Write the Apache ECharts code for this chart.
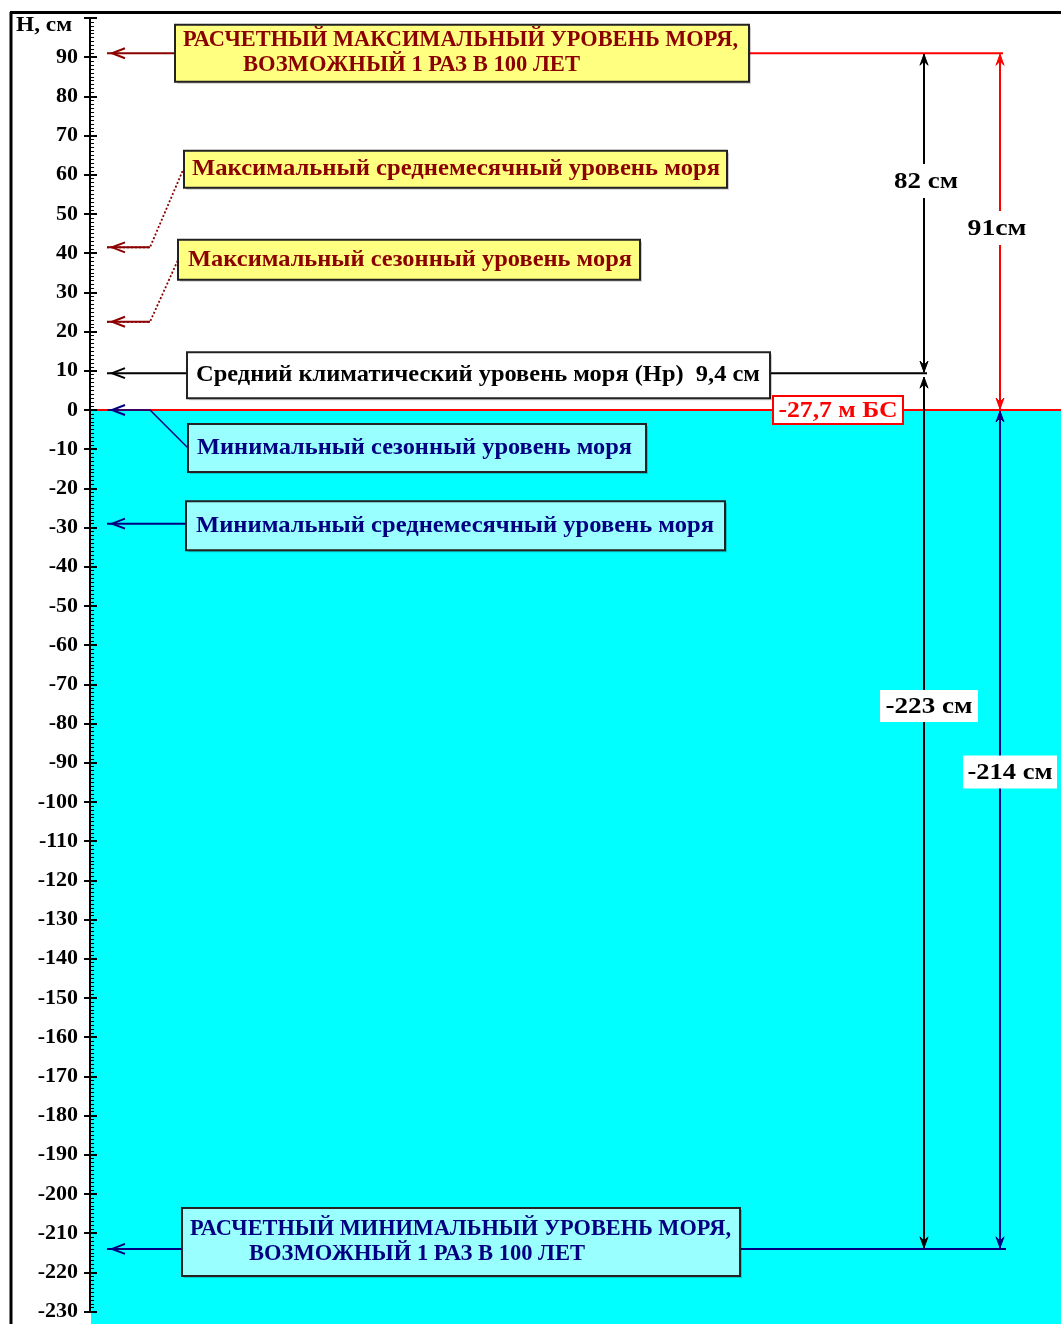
<!DOCTYPE html>
<html>
<head>
<meta charset="utf-8">
<script src="https://cdn.jsdelivr.net/npm/echarts@6/dist/echarts.min.js"></script>
<style>
  html, body { margin: 0; padding: 0; background: #fff; }
  #chart { width: 1061px; height: 1324px; }
</style>
</head>
<body>
<div id="chart"></div>
<script>
// шкала уровня, см
const yMin = -230, yMax = 100, yStep = 10;
const axisTitle = 'H, см';
const datumLabel = '-27,7 м БС';

// характерные уровни моря, см
const levelNames = [
  'РАСЧЕТНЫЙ МАКСИМАЛЬНЫЙ УРОВЕНЬ МОРЯ,\nВОЗМОЖНЫЙ 1 РАЗ В 100 ЛЕТ',
  'Максимальный среднемесячный уровень моря',
  'Максимальный сезонный уровень моря',
  'Средний климатический уровень моря (Нр)  9,4 см',
  'Минимальный сезонный уровень моря',
  'Минимальный среднемесячный уровень моря',
  'РАСЧЕТНЫЙ МИНИМАЛЬНЫЙ УРОВЕНЬ МОРЯ,\nВОЗМОЖНЫЙ 1 РАЗ В 100 ЛЕТ'
];
const levelValues = [91, 41.5, 22.5, 9.4, 0, -29, -214];

// размерные стрелки: от уровня до уровня
const rangeLabels = ['82 см', '91см', '-223 см', '-214 см'];
const rangeFrom = [91, 91, 9.4, 0];
const rangeTo = [9.4, 0, -214, -214];

// оформление
const serif = '"Liberation Serif", "Times New Roman", serif';
const FONT = 'bold 23px ' + serif;
const RED = '#ff0000', DRED = '#8b0000', BLUE = '#000080', BLACK = '#000';
// lx — отступ строки от края рамки, tw — ширина строки текста
const boxes = [
  { x: 175, w: 574, h: 57, dy: 0, fill: '#ffff80', color: DRED, lx: [8, 68], tw: [555, 337] },
  { x: 184, w: 543, h: 37, dy: -78, fill: '#ffff80', color: DRED, lx: [8], tw: [528], leader: [183, 170], dash: true },
  { x: 178, w: 462, h: 40, dy: -62, fill: '#ffff80', color: DRED, lx: [10], tw: [444], leader: [178, 260], dash: true },
  { x: 187, w: 583, h: 46, dy: 2, fill: '#ffffff', color: BLACK, lx: [9], tw: [564] },
  { x: 188, w: 458, h: 48, dy: 38, fill: '#99ffff', color: BLUE, lx: [9], tw: [435], leader: [188, 448] },
  { x: 186, w: 539, h: 49, dy: 2, fill: '#99ffff', color: BLUE, lx: [10], tw: [518] },
  { x: 182, w: 558, h: 68, dy: -7, fill: '#99ffff', color: BLUE, lx: [8, 67], tw: [541, 336] }
];
const rangeX = [924, 1000, 924, 1000];
const rangeColor = [BLACK, RED, BLACK, BLUE];
// подписи стрелок: центр, ширина текста, белая подложка
const rangeText = [
  { cx: 926, cy: 181, tw: 64, bw: 72, bh: 34 },
  { cx: 997, cy: 228, tw: 59, bw: 66, bh: 34 },
  { cx: 929, cy: 706, tw: 87, bw: 98, bh: 32 },
  { cx: 1010, cy: 772, tw: 85, bw: 94, bh: 33 }
];

const measureCtx = document.createElement('canvas').getContext('2d');
function fit(text, font, width) {
  measureCtx.font = font;
  return width / measureCtx.measureText(text).width;
}

const chart = echarts.init(document.getElementById('chart'));

chart.setOption({
  animation: false,
  grid: { left: 90, right: 0, top: 18, bottom: 12.4 },
  xAxis: { type: 'value', min: 0, max: 1, show: false },
  yAxis: [
    {
      type: 'value', min: yMin, max: yMax, interval: yStep, position: 'left', z: 5,
      axisLine: { show: true, lineStyle: { color: '#000', width: 2 } },
      axisTick: { show: true, length: 6, lineStyle: { color: '#000', width: 2 } },
      axisLabel: {
        margin: 12, color: '#000', fontFamily: serif, fontWeight: 'bold', fontSize: 22,
        formatter: v => (v === yMax ? '' : String(v))
      },
      splitLine: { show: false }
    },
    {
      type: 'value', min: yMin, max: yMax, interval: yStep, position: 'left', z: 5,
      axisLine: { show: false },
      axisTick: { show: true, inside: true, length: 7, lineStyle: { color: '#000', width: 2 } },
      minorTick: { show: true, splitNumber: 10, length: 4, lineStyle: { color: '#000', width: 1 } },
      axisLabel: { show: false },
      splitLine: { show: false },
      minorSplitLine: { show: false }
    }
  ],
  series: [{ type: 'line', data: [] }]
});

const py = v => chart.convertToPixel({ yAxisIndex: 0 }, v);
const W = chart.getWidth(), H = chart.getHeight();
const g = [];

// рамка
g.push({ type: 'line', shape: { x1: 11, y1: 12, x2: 11, y2: H }, style: { stroke: '#000', lineWidth: 3 }, z: 20 });
g.push({ type: 'line', shape: { x1: 10, y1: 12.5, x2: W, y2: 12.5 }, style: { stroke: '#000', lineWidth: 3 }, z: 20 });

// вода ниже нуля
const y0 = py(0);
g.push({ type: 'rect', shape: { x: 91, y: y0, width: W - 91, height: H - y0 }, style: { fill: '#00ffff' }, z: -10 });
g.push({ type: 'line', shape: { x1: 91, y1: y0, x2: W, y2: y0 }, style: { stroke: RED, lineWidth: 2 }, z: 3 });

// заголовок оси
const titleFont = 'bold 20px ' + serif;
g.push({ type: 'text', x: 16, y: 26, scaleX: fit(axisTitle, titleFont, 56),
  style: { text: axisTitle, font: titleFont, fill: '#000', verticalAlign: 'middle' }, z: 20 });

function leftArrow(y, color) {
  return { type: 'polyline', shape: { points: [[125, y - 5], [112, y], [125, y + 5]] }, style: { stroke: color, lineWidth: 2, fill: null }, z: 12 };
}
function head(x, y, dir, color) {
  // dir = -1 вверх, 1 вниз
  return {
    type: 'polygon',
    shape: { points: [[x, y], [x - 4, y - dir * 11], [x, y - dir * 7], [x + 4, y - dir * 11]] },
    style: { fill: color, stroke: color, lineWidth: 1 }, z: 12
  };
}

levelValues.forEach((v, i) => {
  const y = py(v), b = boxes[i];
  const cy = y + b.dy, top = cy - b.h / 2;
  // выноска
  if (b.leader) {
    g.push({ type: 'polyline', shape: { points: [[107, y], [150, y], b.leader] },
      style: { stroke: b.color, lineWidth: b.dash ? 1.8 : 1.4, lineDash: b.dash ? [2, 2] : null, fill: null }, z: 11 });
    if (b.dash) {
      g.push({ type: 'line', shape: { x1: 107, y1: y, x2: 150, y2: y }, style: { stroke: b.color, lineWidth: 2 }, z: 11 });
    }
  } else {
    g.push({ type: 'line', shape: { x1: 107, y1: y, x2: b.x, y2: y }, style: { stroke: b.color, lineWidth: 2 }, z: 11 });
  }
  g.push(leftArrow(y, b.color));
  // рамка подписи
  g.push({ type: 'rect', shape: { x: b.x + 2, y: top + 2, width: b.w, height: b.h }, style: { fill: 'rgba(0,0,0,0.2)' }, z: 12 });
  g.push({ type: 'rect', shape: { x: b.x, y: top, width: b.w, height: b.h }, style: { fill: b.fill, stroke: '#222', lineWidth: 2 }, z: 13 });
  const lines = levelNames[i].split('\n');
  lines.forEach((t, k) => {
    const ty = lines.length === 1 ? cy : cy + (k === 0 ? -13 : 12);
    g.push({ type: 'text', x: b.x + b.lx[k], y: ty, scaleX: fit(t, FONT, b.tw[k]),
      style: { text: t, font: FONT, fill: b.color, verticalAlign: 'middle' }, z: 14 });
  });
});

// горизонтали к размерным стрелкам
const yMax100 = py(levelValues[0]), yMean = py(levelValues[3]), yMin100 = py(levelValues[6]);
g.push({ type: 'line', shape: { x1: boxes[0].x + boxes[0].w, y1: yMax100, x2: 1003, y2: yMax100 }, style: { stroke: RED, lineWidth: 2 }, z: 11 });
g.push({ type: 'line', shape: { x1: boxes[3].x + boxes[3].w, y1: yMean, x2: 927, y2: yMean }, style: { stroke: BLACK, lineWidth: 2 }, z: 11 });
g.push({ type: 'line', shape: { x1: boxes[6].x + boxes[6].w, y1: yMin100, x2: 1006, y2: yMin100 }, style: { stroke: BLUE, lineWidth: 2 }, z: 11 });

// размерные стрелки
rangeLabels.forEach((t, i) => {
  const x = rangeX[i], c = rangeColor[i], r = rangeText[i];
  const a = py(rangeFrom[i]) + (i === 2 ? 4 : 1), b = py(rangeTo[i]) - 1;
  g.push({ type: 'line', shape: { x1: x, y1: a, x2: x, y2: b }, style: { stroke: c, lineWidth: 2 }, z: 11 });
  g.push(head(x, a, -1, c));
  g.push(head(x, b, 1, c));
  g.push({ type: 'rect', shape: { x: r.cx - r.bw / 2, y: r.cy - r.bh / 2, width: r.bw, height: r.bh }, style: { fill: '#fff' }, z: 14 });
  g.push({ type: 'text', x: r.cx, y: r.cy + 1, scaleX: fit(t, FONT, r.tw),
    style: { text: t, font: FONT, fill: '#000', align: 'center', verticalAlign: 'middle' }, z: 15 });
});

// отметка нуля
g.push({ type: 'rect', shape: { x: 773, y: y0 - 14, width: 130, height: 28 }, style: { fill: '#fff', stroke: RED, lineWidth: 2 }, z: 14 });
g.push({ type: 'text', x: 838, y: y0 + 1, scaleX: fit(datumLabel, FONT, 119),
  style: { text: datumLabel, font: FONT, fill: RED, align: 'center', verticalAlign: 'middle' }, z: 15 });

chart.setOption({ graphic: { elements: g } });
window.addEventListener('resize', () => chart.resize());
</script>
</body>
</html>
